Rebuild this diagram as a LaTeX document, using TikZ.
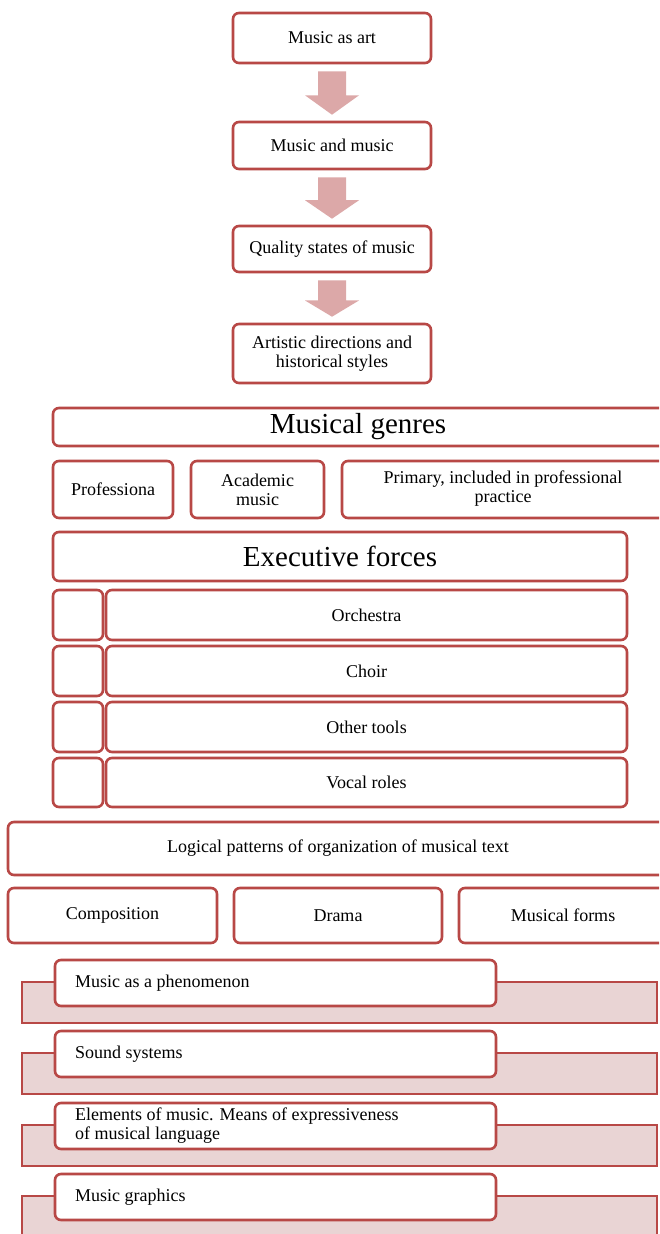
\documentclass[tikz,border=0pt]{standalone}
\usepackage{fontspec}
\setmainfont{Liberation Serif}
\usetikzlibrary{calc}
\definecolor{bord}{RGB}{184,72,70}
\definecolor{arrfill}{RGB}{220,168,168}
\definecolor{bgfill}{RGB}{233,212,212}
\tikzset{
  box/.style={draw=bord, line width=2.6pt, rounded corners=6pt, fill=white, inner sep=0pt, align=center, font=\fontsize{18}{19}\selectfont},
  bigbox/.style={box, font=\fontsize{29}{31}\selectfont},
  txt/.style={inner sep=0pt, align=center, font=\fontsize{18}{19}\selectfont},
  bgrect/.style={draw=bord, line width=2.6pt, fill=bgfill, inner sep=0pt},
  blockarrow/.style={fill=arrfill, draw=none}
}
\newcommand{\bx}[6]{% name, style, x1, y1, x2, y2, text follows
  \node[#2, minimum width={(#5)-(#3)}, minimum height={(#6)-(#4)}] (#1) at ({((#3)+(#5))/2},{((#4)+(#6))/2})}
\begin{document}
\begin{tikzpicture}[x=1pt,y=-1pt]
\clip (0,0) rectangle (659,1234);
\fill[white] (0,0) rectangle (659,1234);
% top chain
\bx{b1}{box}{233}{13}{431}{63} {Music as art};
\bx{b2}{box}{233}{122}{431}{169} {Music and music};
\bx{b3}{box}{233}{226}{431}{272} {Quality states of music};
\bx{b4}{box}{233}{324}{431}{383} {Artistic directions and\\historical styles};
\foreach \a/\b in {b1/b2,b2/b3,b3/b4}{
  \fill[blockarrow] ($(\a.south)+(-14,7)$) -- ($(\a.south)+(14,7)$) -- ($(\a.south)!0.55!(\b.north)+(14,0)$)
    -- ($(\a.south)!0.55!(\b.north)+(27,0)$) -- ($(\b.north)+(0,-6)$) -- ($(\a.south)!0.55!(\b.north)+(-27,0)$)
    -- ($(\a.south)!0.55!(\b.north)+(-14,0)$) -- cycle;
}
% genres
\bx{mg}{bigbox}{53}{408}{690}{446} {};
\node[txt, font=\fontsize{29}{31}\selectfont] (mgt) at (358,427) {Musical genres};
\bx{g1}{box}{53}{461}{173}{518} {Professiona};
\bx{g2}{box}{191}{461}{324}{518} {Academic\\music};
\bx{g3}{box}{342}{461}{690}{518} {};
\node[txt] (g3t) at (503,489) {Primary, included in professional\\practice};
% executive forces
\bx{ef}{bigbox}{53}{532}{627}{581} {Executive forces};
\foreach \n/\t/\ya/\yb in {o/Orchestra/590/640, c/Choir/646/696, t/Other tools/702/752, v/Vocal roles/758/807}{
  \bx{s\n}{box}{53}{\ya}{103}{\yb} {};
  \bx{r\n}{box}{106}{\ya}{627}{\yb} {\t};
}
% logical patterns
\bx{lp}{box}{8}{822}{690}{875} {};
\node[txt] (lpt) at (338,848) {Logical patterns of organization of musical text};
\bx{l1}{box}{8}{888}{217}{943} {Composition};
\bx{l2}{box}{234}{888}{442}{943} {Drama};
\bx{l3}{box}{459}{888}{690}{943} {};
\node[txt] (l3t) at (563,915) {Musical forms};
% bottom list
\foreach \n/\y/\t in {p/960/{Music as a phenomenon}, s/1031/{Sound systems}, e/1103/{Elements of music. Means of expressiveness\\of musical language}, m/1174/{Music graphics}}{
  \bx{bg\n}{bgrect}{22}{\y+22}{657}{\y+63} {};
  \bx{w\n}{box}{55}{\y}{496}{\y+46} {};
  \node[txt, anchor=west, align=left] (t\n) at (75,\y+23) {\t};
}
\end{tikzpicture}
\end{document}
